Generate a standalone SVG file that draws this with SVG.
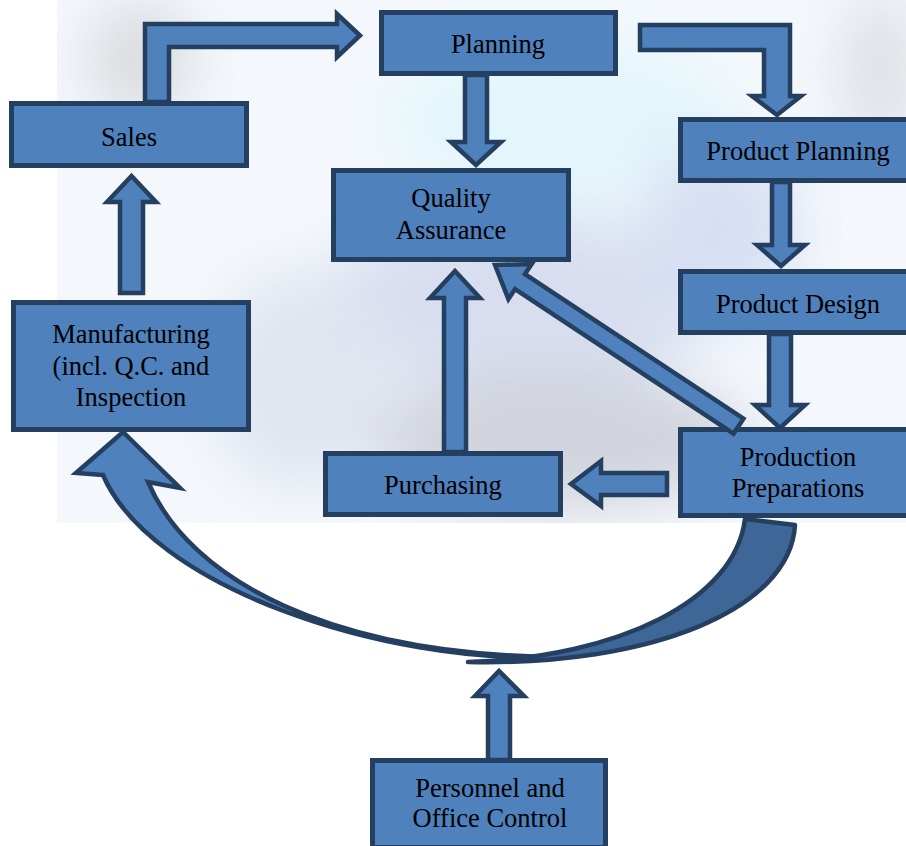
<svg xmlns="http://www.w3.org/2000/svg" width="906" height="846" viewBox="0 0 906 846">
<style>
.box{fill:#4F81BD;stroke:#243F60;stroke-width:5}
.arr{fill:#4F81BD;stroke:#243F60;stroke-width:4.5;stroke-linejoin:miter}
.back{fill:#3E6797;stroke:#243F60;stroke-width:4.5;stroke-linejoin:round}
.lbl{font-family:"Liberation Serif","Times New Roman",serif;font-size:26.5px;fill:#000;text-anchor:middle}
</style>
<defs>
<filter id="blur" x="-50%" y="-50%" width="200%" height="200%"><feGaussianBlur stdDeviation="28"/></filter>
<clipPath id="wmclip"><rect x="57" y="0" width="849" height="523"/></clipPath>
</defs>
<rect width="906" height="846" fill="#FFFFFF"/>
<g id="watermark" clip-path="url(#wmclip)">
<rect x="57" y="0" width="849" height="523" fill="#F4F8FC"/>
<g filter="url(#blur)" opacity="0.85">
<ellipse cx="140" cy="60" rx="55" ry="60" fill="#D6D8DC"/>
<ellipse cx="560" cy="120" rx="170" ry="80" fill="#E0F6FB"/>
<ellipse cx="520" cy="300" rx="200" ry="90" fill="#D4DAEE"/>
<ellipse cx="560" cy="440" rx="190" ry="70" fill="#CBCED7"/>
<ellipse cx="300" cy="380" rx="90" ry="110" fill="#DDE2EE"/>
<ellipse cx="880" cy="70" rx="40" ry="80" fill="#DADCE0"/>
<ellipse cx="720" cy="230" rx="80" ry="90" fill="#D3DBF2"/>
</g>
</g>
<g id="connectors">
<polygon class="arr" points="145,102 145,24 337,24 337,14 360,35.5 337,57 337,47 169,47 169,102"/>
<polygon class="arr" points="465,75 487,75 487,142 501,142 476,165 451,142 465,142"/>
<polygon class="arr" points="640,25 790,25 790,96 801,96 777,115 752,96 764,96 764,50 640,50"/>
<polygon class="arr" points="772,182 790,182 790,245 805,245 781,266 757,245 772,245"/>
<polygon class="arr" points="769,334 791,334 791,405 805,405 780,428 755,405 769,405"/>
<polygon class="arr" points="667,473 601,473 601,461 571,484 601,506 601,495 667,495"/>
<polygon class="arr" points="444,452 444,298 430,298 455,271 480,298 466,298 466,452"/>
<polygon class="arr" points="120,293 120,202 107,202 131.5,176 156,202 143,202 143,293"/>
<polygon class="arr" points="488,760 488,696 475,696 499,671 524,696 510,696 510,760"/>
<path class="arr" d="M103,475 L76,473 L123,432 L180,488 L148,482 C190,580 330,655 560,657 C380,665 150,585 103,475 Z"/>
<path class="back" d="M745,519 L795,525 C790,610 650,666 468,662 C620,657 735,600 745,519 Z"/>
</g>
<g id="sales"><rect class="box" x="11.5" y="103.5" width="235" height="62"/><text class="lbl" x="129" y="146">Sales</text></g>
<g id="planning"><rect class="box" x="381.5" y="12.5" width="234" height="61"/><text class="lbl" x="498" y="53">Planning</text></g>
<g id="quality-assurance"><rect class="box" x="333.5" y="170.5" width="235" height="89"/><text class="lbl" x="451" y="207">Quality</text><text class="lbl" x="451" y="239">Assurance</text></g>
<g id="product-planning"><rect class="box" x="680.5" y="119.5" width="235" height="61"/><text class="lbl" x="798" y="160">Product Planning</text></g>
<g id="product-design"><rect class="box" x="680.5" y="271.5" width="235" height="61"/><text class="lbl" x="798" y="313">Product Design</text></g>
<g id="production-preparations"><rect class="box" x="680.5" y="429.5" width="235" height="86"/><text class="lbl" x="798" y="466">Production</text><text class="lbl" x="798" y="497">Preparations</text></g>
<g id="purchasing"><rect class="box" x="325.5" y="453.5" width="235" height="61"/><text class="lbl" x="443" y="494">Purchasing</text></g>
<g id="manufacturing"><rect class="box" x="13.5" y="302.5" width="235" height="127"/><text class="lbl" x="131" y="343">Manufacturing</text><text class="lbl" x="131" y="375">(incl. Q.C. and</text><text class="lbl" x="131" y="406">Inspection</text></g>
<g id="personnel"><rect class="box" x="372.5" y="760.5" width="233" height="87"/><text class="lbl" x="490" y="797">Personnel and</text><text class="lbl" x="490" y="827">Office Control</text></g>
<g id="connector-diagonal"><polygon class="arr" transform="translate(495,265) rotate(33.5)" points="0,0 30,-21 30,-9 292,-9 292,9 30,9 30,21"/></g>
</svg>
